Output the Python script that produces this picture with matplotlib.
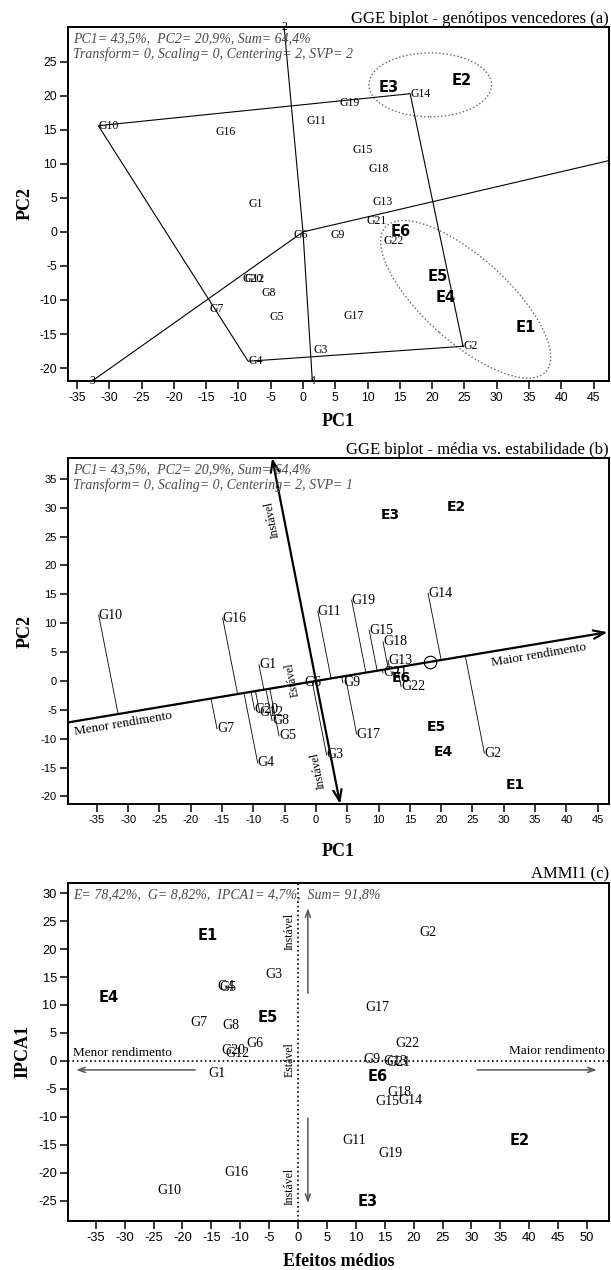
import numpy as np
import matplotlib.pyplot as plt
from matplotlib.patches import Ellipse

plt.rcParams['font.family'] = ['Liberation Serif', 'DejaVu Serif']
plt.rcParams['axes.unicode_minus'] = False

# ---- data ----
genotypes = ["G1", "G2", "G3", "G4", "G5", "G6", "G7", "G8", "G9", "G10", "G11",
             "G12", "G13", "G14", "G15", "G16", "G17", "G18", "G19", "G20", "G21", "G22"]
environments = ["E1", "E2", "E3", "E4", "E5", "E6"]

# (a) which-won-where, SVP=2
ga_x = [-8.5, 24.8, 1.6, -8.5, -5.2, -1.5, -14.5, -6.5, 4.3, -31.7, 0.5,
        -9.1, 10.8, 16.6, 7.7, -13.6, 6.2, 10.1, 5.6, -9.3, 9.8, 12.5]
ga_y = [4.1, -16.8, -17.4, -19.0, -12.5, -0.5, -11.3, -9.0, -0.5, 15.6, 16.3,
        -6.9, 4.4, 20.3, 12.1, 14.7, -12.4, 9.2, 19.0, -6.9, 1.6, -1.4]
ea_x = [34.5, 24.6, 13.2, 22.1, 20.9, 15.2]
ea_y = [-14.1, 22.2, 21.2, -9.6, -6.6, 0.0]
hull = ["G2", "G14", "G10", "G4"]

# (b) mean vs stability, SVP=1
gb_x = [-9.1, 26.9, 1.7, -9.3, -5.9, -1.8, -15.8, -7.0, 4.3, -34.7, 0.3,
        -9.0, 11.5, 17.9, 8.5, -14.9, 6.5, 10.7, 5.7, -9.8, 10.7, 13.6]
gb_y = [2.8, -12.5, -12.8, -14.2, -9.5, -0.3, -8.3, -6.9, -0.3, 11.4, 12.1,
        -5.4, 3.6, 15.2, 8.8, 10.9, -9.2, 6.8, 14.0, -5.0, 1.4, -1.0]
eb_x = [31.8, 22.4, 11.8, 20.3, 19.2, 13.7]
eb_y = [-18.0, 30.1, 28.7, -12.3, -8.0, 0.5]
aec = (18.2, 3.3)

# (c) AMMI1
gc_x = [-14.0, 22.5, -4.2, -12.5, -12.1, -7.4, -17.1, -11.6, 12.8, -22.3, 9.7,
        -10.4, 16.8, 19.4, 15.4, -10.7, 13.8, 17.5, 15.9, -11.2, 17.4, 18.9]
gc_y = [-2.3, 22.9, 15.4, 13.3, 13.1, 3.2, 6.8, 6.3, 0.2, -23.2, -14.3,
        1.3, -0.1, -7.1, -7.3, -20.0, 9.5, -5.7, -16.5, 1.8, -0.2, 3.2]
ec_x = [-15.6, 38.4, 12.1, -32.7, -5.2, 13.8]
ec_y = [22.5, -14.3, -25.2, 11.3, 7.7, -2.7]

W, H = 611, 1270
fig = plt.figure(figsize=(W / 100, H / 100), dpi=100)

GRAY = '#4a4a4a'
ENV_FONT = dict(family='DejaVu Sans', fontweight='bold', ha='center', va='center')


def panel(top, bottom, xlim, ylim, xticks, yticks, tsize):
    ax = fig.add_axes([68 / W, (H - bottom) / H, 541 / W, (bottom - top) / H])
    ax.set_xlim(*xlim)
    ax.set_ylim(*ylim)
    ax.set_xticks(xticks)
    ax.set_yticks(yticks)
    for s in ax.spines.values():
        s.set_linewidth(1.4)
    ax.tick_params(length=6, width=1.1, pad=2, labelsize=tsize)
    for lab in ax.get_xticklabels() + ax.get_yticklabels():
        lab.set_family('Liberation Sans')
    return ax


def ray_end(ax, d):
    x0, x1 = ax.get_xlim()
    y0, y1 = ax.get_ylim()
    ts = []
    if d[0] > 0: ts.append(x1 / d[0])
    if d[0] < 0: ts.append(x0 / d[0])
    if d[1] > 0: ts.append(y1 / d[1])
    if d[1] < 0: ts.append(y0 / d[1])
    t = min(ts)
    return d[0] * t, d[1] * t


# ---------------- (a) ----------------
ax = panel(27, 381, (-36.4, 47.4), (-21.9, 30.1), range(-35, 50, 5), range(-20, 30, 5), 8.8)
idx = {g: i for i, g in enumerate(genotypes)}
hx = [ga_x[idx[g]] for g in hull] + [ga_x[idx[hull[0]]]]
hy = [ga_y[idx[g]] for g in hull] + [ga_y[idx[hull[0]]]]
ax.plot(hx, hy, color='black', lw=0.8)
for k in range(len(hull)):
    ex, ey = hx[k + 1] - hx[k], hy[k + 1] - hy[k]
    d = np.array([ey, -ex])
    # perpendicular from origin to the edge
    if d[0] * hx[k] + d[1] * hy[k] < 0:
        d = -d
    d = d / np.hypot(*d)
    px, py = ray_end(ax, d)
    ax.plot([0, px], [0, py], color='black', lw=0.8)
    ax.text(px, py, str(k + 1), fontsize=8.5, ha='center', va='center', clip_on=False)
for g, x, y in zip(genotypes, ga_x, ga_y):
    ax.text(x, y, g, fontsize=8.5, ha='left', va='center')
for e, x, y in zip(environments, ea_x, ea_y):
    ax.text(x, y, e, fontsize=10.5, **ENV_FONT)
ax.add_patch(Ellipse((19.7, 21.6), 19, 9.4, fill=False, ls=':', lw=1, ec='#666'))
ax.add_patch(Ellipse((25.2, -9.9), 32.7, 12.7, angle=-40, fill=False, ls=':', lw=1, ec='#666'))
ax.text(0.01, 0.985, "PC1= 43,5%,  PC2= 20,9%, Sum= 64,4%\nTransform= 0, Scaling= 0, Centering= 2, SVP= 2",
        transform=ax.transAxes, fontsize=10, style='italic', color=GRAY, va='top', ha='left',
        linespacing=1.2)
ax.set_title("GGE biplot - genótipos vencedores (a)", loc='right', fontsize=12, pad=3)
ax.set_xlabel("PC1", fontsize=13, fontweight='bold', va='center')
ax.xaxis.set_label_coords(0.5, -(421 - 381) / 354)
ax.set_ylabel("PC2", fontsize=13, fontweight='bold', va='center')
ax.yaxis.set_label_coords((25 - 68) / 541, 0.5)

# ---------------- (b) ----------------
ax = panel(458, 804, (-39.6, 46.8), (-21.3, 38.6), range(-35, 50, 5), range(-20, 40, 5), 8)
u = np.array(aec) / np.hypot(*aec)
v = np.array([-u[1], u[0]])
for x, y in zip(gb_x, gb_y):
    t = x * u[0] + y * u[1]
    ax.plot([x, t * u[0]], [y, t * u[1]], color='black', lw=0.6)
left = ray_end(ax, -u)
right = ray_end(ax, u)
ax.annotate('', xy=(right[0] * 0.995, right[1] * 0.995), xytext=left,
            arrowprops=dict(arrowstyle='->,head_length=0.8,head_width=0.3', lw=1.6,
                            color='black', shrinkA=0, shrinkB=0))
for d in (v, -v):
    ax.annotate('', xy=ray_end(ax, d), xytext=(0, 0),
                arrowprops=dict(arrowstyle='->,head_length=0.8,head_width=0.3', lw=1.6,
                                color='black', shrinkA=0, shrinkB=0))
ax.plot([aec[0]], [aec[1]], 'o', ms=9, mfc='none', mec='black', mew=0.8)
for g, x, y in zip(genotypes, gb_x, gb_y):
    ax.text(x, y, g, fontsize=10, ha='left', va='center')
for e, x, y in zip(environments, eb_x, eb_y):
    ax.text(x, y, e, fontsize=10, **ENV_FONT)
rot_aea = 9.6
rot_atc = 101
ax.text(-30.7, -7.4, "Menor rendimento", fontsize=9.5, rotation=rot_aea, ha='center', va='center',
        rotation_mode='anchor')
ax.text(35.6, 4.5, "Maior rendimento", fontsize=9.5, rotation=rot_aea, ha='center', va='center',
        rotation_mode='anchor')
ax.text(-7.0, 27.9, "Instável", fontsize=8.5, rotation=rot_atc, ha='center', va='center',
        rotation_mode='anchor')
ax.text(-3.8, 0.2, "Estável", fontsize=8.5, rotation=rot_atc, ha='center', va='center',
        rotation_mode='anchor')
ax.text(0.3, -15.4, "Instável", fontsize=8.5, rotation=rot_atc, ha='center', va='center',
        rotation_mode='anchor')
ax.text(0.01, 0.985, "PC1= 43,5%,  PC2= 20,9%, Sum= 64,4%\nTransform= 0, Scaling= 0, Centering= 2, SVP= 1",
        transform=ax.transAxes, fontsize=10, style='italic', color=GRAY, va='top', ha='left',
        linespacing=1.2)
ax.set_title("GGE biplot - média vs. estabilidade (b)", loc='right', fontsize=12, pad=3)
ax.set_xlabel("PC1", fontsize=13, fontweight='bold', va='center')
ax.xaxis.set_label_coords(0.5, -(852 - 804) / 346)
ax.set_ylabel("PC2", fontsize=13, fontweight='bold', va='center')
ax.yaxis.set_label_coords((25 - 68) / 541, 0.5)

# ---------------- (c) ----------------
ax = panel(883, 1221, (-39.8, 53.8), (-28.6, 31.8), range(-35, 55, 5), range(-25, 35, 5), 9.3)
ax.axhline(0, color='black', ls=':', lw=1.2)
ax.axvline(0, color='black', ls=':', lw=1.2)
aprops = dict(arrowstyle='->,head_length=0.5,head_width=0.18', lw=1.1, color='#555',
              shrinkA=0, shrinkB=0)
ax.annotate('', xy=(1.7, 27.3), xytext=(1.7, 12.1), arrowprops=aprops)
ax.annotate('', xy=(1.7, -25.4), xytext=(1.7, -10.2), arrowprops=aprops)
ax.annotate('', xy=(-38.4, -1.6), xytext=(-17.8, -1.6), arrowprops=aprops)
ax.annotate('', xy=(51.7, -1.6), xytext=(31.0, -1.6), arrowprops=aprops)
for g, x, y in zip(genotypes, gc_x, gc_y):
    ax.text(x, y, g, fontsize=10, ha='center', va='center')
for e, x, y in zip(environments, ec_x, ec_y):
    ax.text(x, y, e, fontsize=10.5, **ENV_FONT)
ax.text(-30.4, 1.5, "Menor rendimento", fontsize=9.5, ha='center', va='center')
ax.text(44.8, 1.8, "Maior rendimento", fontsize=9.5, ha='center', va='center')
ax.text(-1.4, 23.2, "Instável", fontsize=8.5, rotation=90, ha='center', va='center')
ax.text(-1.5, 0.3, "Estável", fontsize=8.5, rotation=90, ha='center', va='center')
ax.text(-1.4, -22.5, "Instável", fontsize=8.5, rotation=90, ha='center', va='center')
ax.text(0.01, 0.985, "E= 78,42%,  G= 8,82%,  IPCA1= 4,7%,  Sum= 91,8%",
        transform=ax.transAxes, fontsize=10, style='italic', color=GRAY, va='top', ha='left')
ax.set_title("AMMI1 (c)", loc='right', fontsize=12, pad=3)
ax.set_xlabel("Efeitos médios", fontsize=13, fontweight='bold', va='center')
ax.xaxis.set_label_coords(0.5, -(1262 - 1221) / 338)
ax.set_ylabel("IPCA1", fontsize=13, fontweight='bold', va='center')
ax.yaxis.set_label_coords((23 - 68) / 541, 0.5)

fig.savefig("out.png", dpi=100)
